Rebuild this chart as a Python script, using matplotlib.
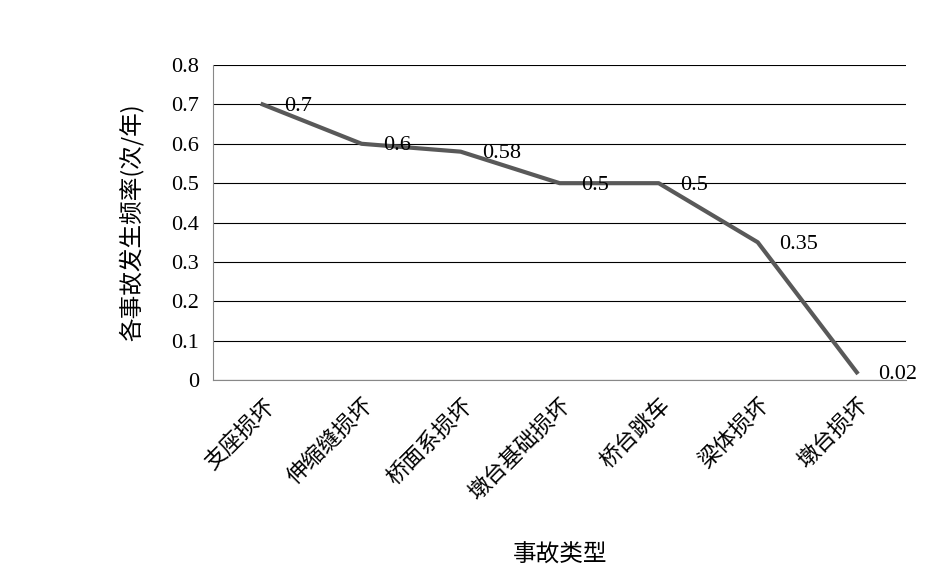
import matplotlib
matplotlib.use('Agg')
from matplotlib import pyplot as plt

categories = ['支座损坏', '伸缩缝损坏', '桥面系损坏', '墩台基础损坏', '桥台跳车', '梁体损坏', '墩台损坏']
freq = [0.7, 0.6, 0.58, 0.5, 0.5, 0.35, 0.02]
labels = ['0.7', '0.6', '0.58', '0.5', '0.5', '0.35', '0.02']

plt.rcParams['font.family'] = ['Liberation Serif', 'Noto Sans CJK SC']

fig = plt.figure(figsize=(9.49, 5.7), dpi=100)
ax = fig.add_axes([0.2245, 0.333, 0.7305, 0.553])

x = list(range(len(categories)))
ax.plot(x, freq, color='#595959', lw=3, zorder=3)
for xi, yi, lab in zip(x, freq, labels):
    ax.text(xi + 0.22, yi - 0.005, lab, fontsize=16, va='center', ha='left', zorder=4)

ax.set_xlim(-0.5, 6.5)
ax.set_ylim(0, 0.8)
ax.set_yticks([0, 0.1, 0.2, 0.3, 0.4, 0.5, 0.6, 0.7, 0.8],
              ['0', '0.1', '0.2', '0.3', '0.4', '0.5', '0.6', '0.7', '0.8'], fontsize=16)
ax.set_xticks(x, categories, rotation=45, ha='right', rotation_mode='anchor',
              fontsize=16, family=['Noto Sans CJK SC'])
ax.tick_params(length=0, pad=10)
ax.yaxis.grid(True, color='black', lw=0.8)
ax.set_axisbelow(True)
for s in ['top', 'right']:
    ax.spines[s].set_visible(False)
ax.spines['left'].set_color('#888888')
ax.spines['bottom'].set_color('#888888')
ax.set_ylabel('各事故发生频率(次/年)', fontsize=17, family=['Noto Sans CJK SC'], labelpad=20)
ax.set_xlabel('事故类型', fontsize=17, family=['Noto Sans CJK SC'], labelpad=28)

fig.savefig('out.png', dpi=100)
